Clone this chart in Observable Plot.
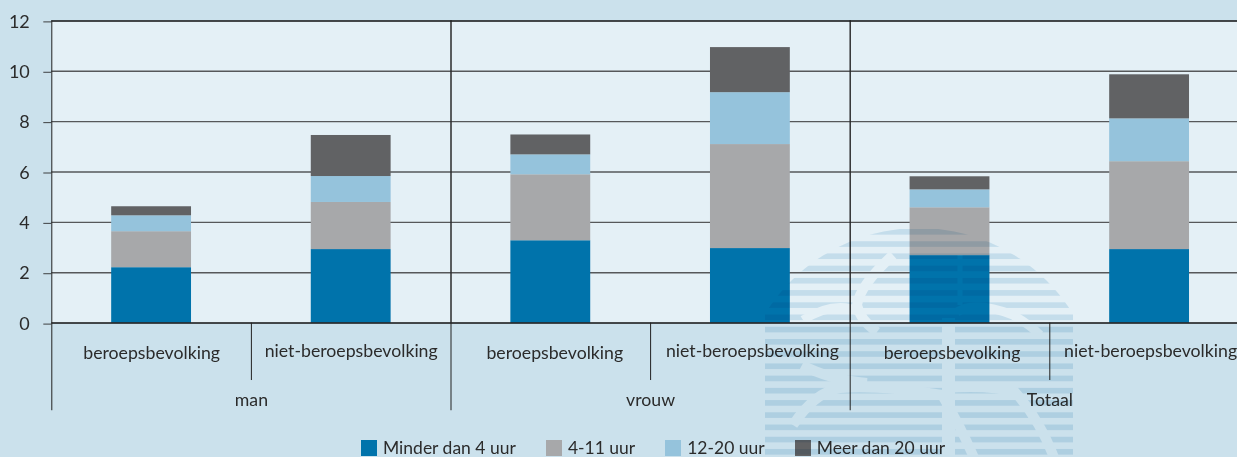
<!DOCTYPE html>
<html lang="nl">
<head>
<meta charset="utf-8">
<script src="https://cdn.jsdelivr.net/npm/d3@7"></script>
<script src="https://cdn.jsdelivr.net/npm/@observablehq/plot@0.6"></script>
<style>
html,body{margin:0;padding:0;background:#cbe1ec;width:1237px;height:457px;overflow:hidden}
#wrap{position:relative;width:1237px;height:457px;overflow:hidden;font-family:Lato,sans-serif;color:#2b2b2b}
#chart svg{display:block;background:transparent!important}
#legend{position:absolute;left:361px;top:438px;white-space:nowrap}
#legend > div{font:17.5px/19px Lato,sans-serif!important;color:#2b2b2b!important;margin:0!important;min-height:0!important;height:19px;display:flex;align-items:center;white-space:nowrap}
#legend .lg-swatch{margin-right:30px!important;display:inline-flex;align-items:center}
#legend .lg-swatch svg{margin-right:6px!important}
#mark{position:absolute;left:0;top:0;mix-blend-mode:multiply;pointer-events:none}
</style>
</head>
<body>
<div id="wrap"><div id="chart"></div><div id="legend"></div></div>
<script>
const groups = ["man", "vrouw", "Totaal"];
const subgroups = ["beroepsbevolking", "niet-beroepsbevolking"];
const series = ["Minder dan 4 uur", "4-11 uur", "12-20 uur", "Meer dan 20 uur"];
const colors = ["#0073ab", "#a7a8aa", "#95c3dc", "#616264"];
const minder4 = [2.2, 2.92, 3.27, 2.96, 2.68, 2.92];
const uur4_11 = [1.43, 1.87, 2.62, 4.13, 1.9, 3.49];
const uur12_20 = [0.63, 1.03, 0.79, 2.06, 0.71, 1.7];
const meer20 = [0.36, 1.63, 0.79, 1.79, 0.52, 1.75];
const yTicks = [0, 2, 4, 6, 8, 10, 12];

const keys = groups.flatMap(g => subgroups.map(s => g + "|" + s));
const rows = [minder4, uur4_11, uur12_20, meer20].flatMap((vals, i) =>
  vals.map((v, j) => ({key: keys[j], series: series[i], value: v})));

const step = 199.6;
const left = 51.3;
const half = step / 2;
const font = "Lato, sans-serif";
const ink = "#2b2b2b";
const nudge = [0, 0, 4, 2, 2, 1];
const sizeLabel = 17.7;

const labelMarks = keys.map((k, i) => Plot.text([k], {
  x: d => d, y: () => i % 2 ? -1.13 : -1.21,
  text: d => d.split("|")[1], dx: nudge[i],
  fontSize: sizeLabel, fill: ink, fontFamily: font
}));

const chart = Plot.plot({
  width: 1237, height: 432,
  marginLeft: left, marginRight: 0, marginTop: 20.4, marginBottom: 109.4,
  style: {background: "transparent", fontFamily: font, overflow: "hidden"},
  x: {type: "band", domain: keys, range: [left, left + 6 * step], paddingInner: 0.6, paddingOuter: 0.3, round: false, axis: null},
  y: {domain: [0, 12], axis: null},
  color: {domain: series, range: colors},
  marks: [
    Plot.frame({fill: "#e4f0f6", stroke: null}),
    Plot.ruleY(yTicks.filter(t => t > 0 && t < 12), {stroke: "#56585a", strokeWidth: 1.3}),
    Plot.ruleX(keys.filter((k, i) => i % 2 === 0).slice(1), {x: d => d, dx: -half, y1: 12, y2: 0, stroke: "#3d3f41", strokeWidth: 1}),
    Plot.barY(rows, {x: "key", y: "value", fill: "series"}),
    Plot.ruleY([0, 12], {stroke: "#111", strokeWidth: 1.5}),
    Plot.axisY({ticks: yTicks, tickSize: 8, tickPadding: 14, fontSize: 18, stroke: "#3d3f41", fill: ink, anchor: "left", label: null, dy: 1}),
    Plot.ruleX(keys.filter((k, i) => i % 2 === 0), {x: d => d, dx: -half, y1: 12, y2: -3.48, stroke: "#222", strokeWidth: 1}),
    Plot.ruleX(keys.filter((k, i) => i % 2 === 1), {x: d => d, dx: -half, y1: 0, y2: -2.28, stroke: "#222", strokeWidth: 1}),
    ...labelMarks,
    Plot.text(groups, {x: g => g + "|" + subgroups[1], y: () => -3.07, dx: -half, text: d => d, fontSize: sizeLabel, fill: ink, fontFamily: font})
  ]
});
document.getElementById("chart").append(chart);

const legend = chart.legend("color", {swatchSize: 16, className: "lg"});
document.getElementById("legend").append(legend);

// Decorative watermark behind the reference: a striped dome with curved gaps.
const ns = d3.create("svg").attr("id", "mark").attr("width", 1237).attr("height", 457);
const defs = ns.append("defs");
const pat = defs.append("pattern").attr("id", "stripes").attr("patternUnits", "userSpaceOnUse")
  .attr("x", 0).attr("y", 229).attr("width", 20).attr("height", 12.22);
pat.append("rect").attr("width", 20).attr("height", 5.6).attr("fill", "#dbebf4");
const mask = defs.append("mask").attr("id", "dome").attr("maskUnits", "userSpaceOnUse")
  .attr("x", 0).attr("y", 0).attr("width", 1237).attr("height", 457);
mask.append("circle").attr("cx", 919).attr("cy", 409).attr("r", 181).attr("fill", "#fff");
const gaps = [
  ["M948.5 318V460", 13],
  ["M960 255V305", 5],
  ["M893 255Q860 285 857 305Q860 320 877 332", 10],
  ["M803 320Q835 300 860 312", 9],
  ["M957 312Q975 300 1013 315Q1030 325 1040 335", 9],
  ["M793 425Q815 392 840 388Q880 385 942 395", 10],
  ["M802 365Q830 380 867 383", 10],
  ["M945 388Q990 385 1015 392Q1040 420 1055 460", 10],
  ["M942 395Q960 425 975 460", 10]
];
gaps.forEach(([d, w]) => mask.append("path").attr("d", d).attr("fill", "none").attr("stroke", "#000").attr("stroke-width", w));
ns.append("rect").attr("x", 765).attr("y", 225).attr("width", 308).attr("height", 232)
  .attr("fill", "url(#stripes)").attr("mask", "url(#dome)");
document.getElementById("wrap").append(ns.node());
</script>
</body>
</html>
